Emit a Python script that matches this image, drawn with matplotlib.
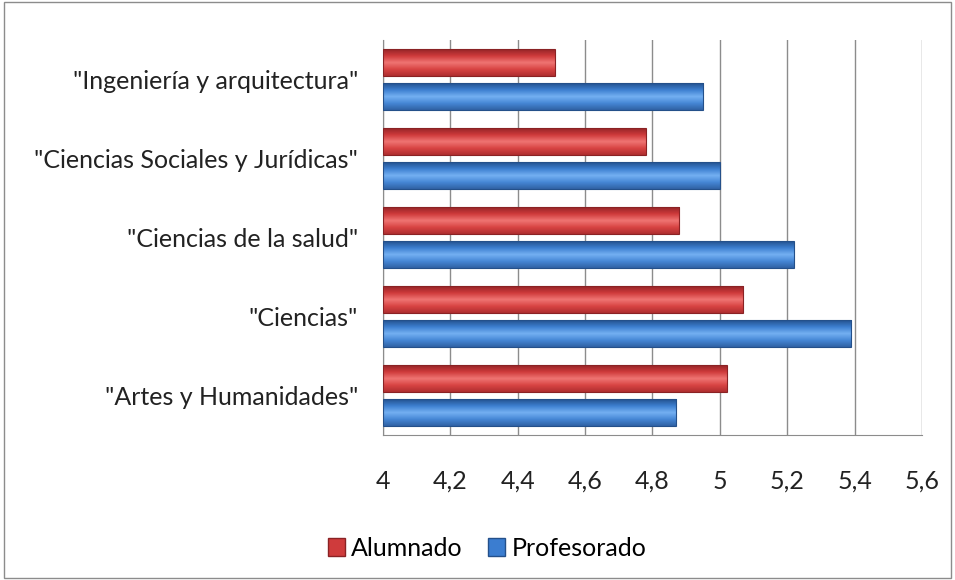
import matplotlib.pyplot as plt
import numpy as np
from matplotlib.colors import LinearSegmentedColormap
from matplotlib.patches import Rectangle

categories = [
    '"Artes y Humanidades"',
    '"Ciencias"',
    '"Ciencias de la salud"',
    '"Ciencias Sociales y Jurídicas"',
    '"Ingeniería y arquitectura"',
]
alumnado = [5.02, 5.07, 4.88, 4.78, 4.51]
profesorado = [4.87, 5.39, 5.22, 5.0, 4.95]
x_ticks = [4, 4.2, 4.4, 4.6, 4.8, 5, 5.2, 5.4, 5.6]
x_labels = ["4", "4,2", "4,4", "4,6", "4,8", "5", "5,2", "5,4", "5,6"]

plt.rcParams["font.family"] = ["Lato", "DejaVu Sans"]

RED = "#cf3b3c"
BLUE = "#3b7dd0"

red_cmap = LinearSegmentedColormap.from_list(
    "r", ["#962628", "#cf3a3b", "#ef7573", "#d84443", "#b02e30"])
blue_cmap = LinearSegmentedColormap.from_list(
    "b", ["#24528f", "#3d7fd0", "#74b0f2", "#4687d6", "#3063a5"])


def shaded_barh(ax, y, widths, height, cmap, edge):
    bars = ax.barh(y, [w - 4 for w in widths], height=height, left=4,
                   color="none", edgecolor=edge, linewidth=0.8, zorder=3)
    grad = np.linspace(0, 1, 64).reshape(-1, 1)
    for b in bars:
        x0, y0 = b.get_x(), b.get_y()
        w, h = b.get_width(), b.get_height()
        im = ax.imshow(grad, cmap=cmap, aspect="auto", origin="lower",
                       extent=[x0, x0 + w, y0 + h, y0], zorder=2,
                       interpolation="bilinear")
        im.set_clip_path(b)
    return bars


fig = plt.figure(figsize=(9.55, 5.8), dpi=100)
ax = fig.add_axes([0.401, 0.25, 0.5644, 0.681])

pos = np.arange(len(categories))
offset = 0.215
h = 0.335
shaded_barh(ax, pos + offset, alumnado, h, red_cmap, "#8a2224")
shaded_barh(ax, pos - offset, profesorado, h, blue_cmap, "#24508a")

ax.set_xlim(4, 5.6)
ax.set_ylim(-0.5, len(categories) - 0.5)
ax.set_xticks(x_ticks)
ax.set_xticklabels(x_labels, fontsize=18, color="#222222")
ax.set_yticks(pos)
ax.set_yticklabels(categories, fontsize=18, color="#222222")
ax.tick_params(axis="x", length=0, pad=25)
ax.tick_params(axis="y", length=0, pad=18)

ax.grid(axis="x", color="#8c8c8c", linewidth=1, zorder=0)
ax.set_axisbelow(True)
for s in ["top", "right"]:
    ax.spines[s].set_visible(False)
for s in ["left", "bottom"]:
    ax.spines[s].set_color("#8c8c8c")

handles = [Rectangle((0, 0), 1, 1, facecolor=RED, edgecolor="#8a2224"),
           Rectangle((0, 0), 1, 1, facecolor=BLUE, edgecolor="#24508a")]
fig.legend(handles, ["Alumnado", "Profesorado"], loc="center",
           bbox_to_anchor=(487 / 955, 1 - 548 / 580), ncol=2, frameon=False,
           fontsize=18, handlelength=0.7, handleheight=0.7,
           handletextpad=0.25, columnspacing=1.0)

fig.patches.append(Rectangle((0.004, 0.004), 0.992, 0.992, transform=fig.transFigure,
                             fill=False, edgecolor="#8c8c8c", linewidth=1))

fig.savefig("out.png", dpi=100)
